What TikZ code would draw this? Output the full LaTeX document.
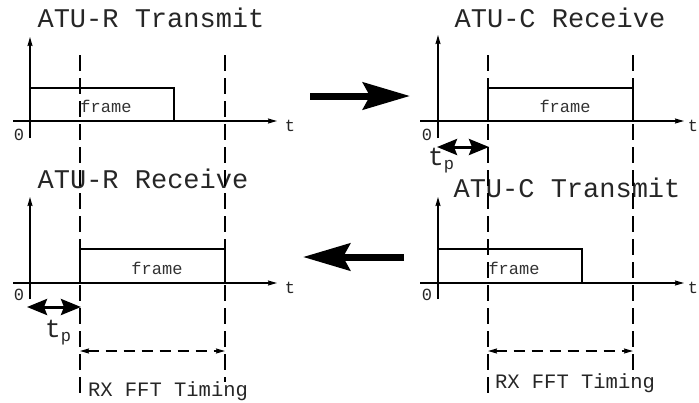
\documentclass[tikz,border=0pt]{standalone}
\usepackage{fontspec}
\setmainfont{Liberation Mono}
\usetikzlibrary{arrows.meta}
\begin{document}
\begin{tikzpicture}[x=1pt,y=-1pt,
  ax/.style={line width=1.3pt,-{Stealth[length=9pt,width=5pt,inset=1pt]}},
  frm/.style={line width=1.4pt},
  vdash/.style={line width=1.5pt,dash pattern=on 16pt off 7pt},
  bigarr/.style={line width=7pt,-{Stealth[length=47pt,width=27pt,inset=7pt]}},
  tphead/.tip={Stealth[length=20pt,width=16pt,inset=3pt]},
  tparr/.style={line width=3pt,tphead-tphead},
  fftarr/.style={line width=1.5pt,dash pattern=on 11pt off 7pt,{Stealth[length=9pt,width=5pt,inset=1pt]}-{Stealth[length=9pt,width=5pt,inset=1pt]}},
  ttl/.style={font=\fontsize{27}{30}\selectfont,anchor=base,inner sep=0pt,text=black!85},
  frtxt/.style={font=\fontsize{17}{20}\selectfont,anchor=base,inner sep=0pt,text=black!80},
  small/.style={font=\fontsize{17}{20}\selectfont,anchor=base,inner sep=0pt,text=black!85},
  fft/.style={font=\fontsize{20.5}{24}\selectfont,anchor=base,inner sep=0pt,text=black!85},
  tp/.style={anchor=base west,inner sep=0pt,text=black!85},
]
\useasboundingbox (0,0) rectangle (699,402);
\newcommand{\tplabel}{{\fontsize{26}{28}\selectfont t}{\fontsize{17}{20}\selectfont\raisebox{-4pt}{p}}}

% ---------- titles
\node[ttl] (t1) at (151,27) {ATU-R Transmit};
\node[ttl] (t2) at (560,27) {ATU-C Receive};
\node[ttl] (t3) at (143,188) {ATU-R Receive};
\node[ttl] (t4) at (567,197) {ATU-C Transmit};

% ---------- dashed vertical guides
\coordinate (la1) at (80,55);  \coordinate (la2) at (80,395);
\coordinate (lb1) at (225,55); \coordinate (lb2) at (225,382);
\coordinate (ra1) at (488,55); \coordinate (ra2) at (488,393);
\coordinate (rb1) at (633,55); \coordinate (rb2) at (633,380);
\draw[vdash] (la1) -- (la2);
\draw[vdash] (lb1) -- (lb2);
\draw[vdash] (ra1) -- (ra2);
\draw[vdash] (rb1) -- (rb2);

% ---------- panel axes
% top-left origin (30,121)
\coordinate (tlx0) at (13,121);  \coordinate (tlx1) at (277,121);
\coordinate (tly0) at (30,138);  \coordinate (tly1) at (30,37);
\draw[ax] (tlx0) -- (tlx1);
\draw[ax] (tly0) -- (tly1);
% top-right origin (438,121)
\coordinate (trx0) at (420,121); \coordinate (trx1) at (684,121);
\coordinate (try0) at (438,138); \coordinate (try1) at (438,35);
\draw[ax] (trx0) -- (trx1);
\draw[ax] (try0) -- (try1);
% bottom-left origin (30,283)
\coordinate (blx0) at (13,283);  \coordinate (blx1) at (277,283);
\coordinate (bly0) at (30,299);  \coordinate (bly1) at (30,197);
\draw[ax] (blx0) -- (blx1);
\draw[ax] (bly0) -- (bly1);
% bottom-right origin (438,283)
\coordinate (brx0) at (420,283); \coordinate (brx1) at (684,283);
\coordinate (bry0) at (438,299); \coordinate (bry1) at (438,197);
\draw[ax] (brx0) -- (brx1);
\draw[ax] (bry0) -- (bry1);

% ---------- frames
\coordinate (f1a) at (30,121);  \coordinate (f1b) at (174,88);
\coordinate (f2a) at (488,121); \coordinate (f2b) at (633,88);
\coordinate (f3a) at (80,283);  \coordinate (f3b) at (225,249);
\coordinate (f4a) at (438,283); \coordinate (f4b) at (582,249);
\draw[frm] (f1a) rectangle (f1b);
\draw[frm] (f2a) rectangle (f2b);
\draw[frm] (f3a) rectangle (f3b);
\draw[frm] (f4a) rectangle (f4b);
\node[frtxt] (fr1) at (106,112) {frame};
\node[frtxt] (fr2) at (565,112) {frame};
\node[frtxt] (fr3) at (157,274) {frame};
\node[frtxt] (fr4) at (514,274) {frame};

% ---------- axis labels
\node[small] (z1) at (19,140) {0};
\node[small] (z2) at (427,140) {0};
\node[small] (z3) at (19,300) {0};
\node[small] (z4) at (427,300) {0};
\node[small] (tt1) at (290,131) {t};
\node[small] (tt2) at (693,131) {t};
\node[small] (tt3) at (290,293) {t};
\node[small] (tt4) at (693,293) {t};

% ---------- propagation delay
\coordinate (tpa1) at (437,147); \coordinate (tpb1) at (489,147);
\draw[tparr] (tpa1) -- (tpb1);
\node[tp] (tpl1) at (428,165) {\tplabel};
\coordinate (tpa2) at (27,307); \coordinate (tpb2) at (81,307);
\draw[tparr] (tpa2) -- (tpb2);
\node[tp] (tpl2) at (45,337) {\tplabel};

% ---------- RX FFT timing
\coordinate (fa1) at (80,351);  \coordinate (fb1) at (225,351);
\coordinate (fa2) at (488,351); \coordinate (fb2) at (633,351);
\draw[fftarr] (fa1) -- (fb1);
\draw[fftarr] (fa2) -- (fb2);
\node[fft] (rx1) at (168,396) {RX FFT Timing};
\node[fft] (rx2) at (575,388) {RX FFT Timing};

% ---------- big direction arrows
\coordinate (ba1) at (310,96);  \coordinate (bb1) at (410,96);
\draw[bigarr] (ba1) -- (bb1);
\coordinate (ba2) at (404,257); \coordinate (bb2) at (303,257);
\draw[bigarr] (ba2) -- (bb2);
\end{tikzpicture}
\end{document}
